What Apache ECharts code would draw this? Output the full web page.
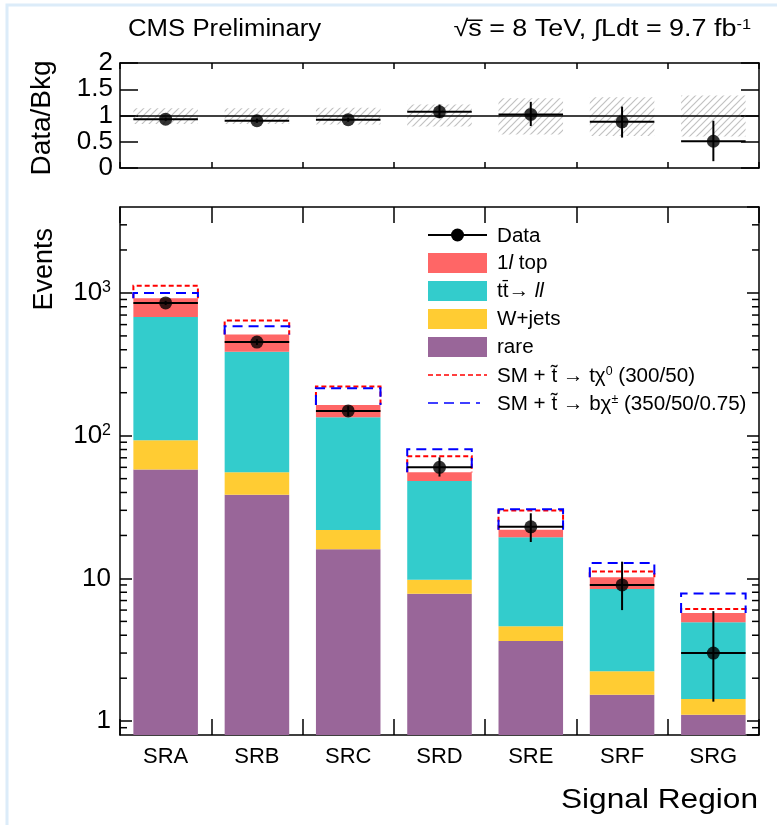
<!DOCTYPE html>
<html>
<head>
<meta charset="utf-8">
<script src="https://cdn.jsdelivr.net/npm/echarts@6/dist/echarts.min.js"></script>
<style>
  html, body { margin: 0; padding: 0; background: #fff; }
  #chart { width: 777px; height: 825px; }
</style>
</head>
<body>
<div id="chart"></div>
<script>
var regions = ['SRA', 'SRB', 'SRC', 'SRD', 'SRE', 'SRF', 'SRG'];

// background processes, events per region (stacked bottom -> top)
var rare  = [58, 38.5, 16, 7.8, 3.65, 1.53, 1.11];
var wjets = [35, 17, 5.8, 2.0, 0.97, 0.71, 0.32];
var ttll  = [586, 332, 113, 38.4, 14.8, 6.2, 3.5];
var top1l = [238, 125, 29, 7.2, 2.5, 1.75, 0.8];

// SM + signal totals
var sigT = [1125, 640, 221, 71.7, 29.9, 11.2, 6.1];    // t~ -> t chi0 (300/50)
var sigB = [1000, 584, 215, 80.2, 30.5, 12.8, 7.85];   // t~ -> b chi+- (350/50/0.75)

// observed data + error bar ends
var data   = [851, 453, 149, 60, 23, 9, 3];
var dataHi = [880, 474, 161, 70.5, 28.6, 13.1, 5.9];
var dataLo = [822, 432, 137, 51.7, 18.0, 6.0, 1.37];

// ratio panel
var ratio   = [0.93, 0.90, 0.92, 1.07, 1.02, 0.88, 0.51];
var ratioHi = [0.96, 0.94, 0.96, 1.21, 1.26, 1.17, 0.90];
var ratioLo = [0.90, 0.86, 0.88, 0.95, 0.80, 0.58, 0.13];
var bandHi  = [1.14, 1.14, 1.15, 1.21, 1.33, 1.35, 1.38];
var bandLo  = [0.84, 0.84, 0.83, 0.79, 0.64, 0.61, 0.60];

var C_TOP = '#ff6666', C_TT = '#33cccc', C_W = '#ffcc33', C_RARE = '#996699';
var FONT = '"Liberation Sans", Arial, Helvetica, sans-serif';
var BAR_FRAC = 0.707;
var Y_MIN = 0.8, Y_MAX = 4000;

// log minor ticks (2..9 of each decade) inside the axis range
var minorTicks = [];
[0.1, 1, 10, 100, 1000].forEach(function (d) {
  for (var m = 2; m <= 9; m++) {
    var v = d * m;
    if (v > Y_MIN && v < Y_MAX) minorTicks.push(v);
  }
});

// stack the background parts
var stackParts = [rare, wjets, ttll, top1l];
var stackColors = [C_RARE, C_W, C_TT, C_TOP];
var bkgTotal = regions.map(function () { return 0; });
var stackRows = stackParts.map(function (part) {
  return part.map(function (v, i) {
    var lo = bkgTotal[i];
    bkgTotal[i] = lo + v;
    return [i, lo, bkgTotal[i]];
  });
});

function barItem(color) {
  return function (params, api) {
    var cs = params.coordSys;
    var i = api.value(0), lo = api.value(1), hi = api.value(2);
    var w = api.size([1, 1])[0] * BAR_FRAC;
    var top = api.coord([i, hi]);
    var yBot = lo > 0 ? api.coord([i, lo])[1] : cs.y + cs.height;
    return {
      type: 'rect',
      shape: { x: top[0] - w / 2, y: top[1], width: w, height: yBot - top[1] },
      style: { fill: color }
    };
  };
}

function sigItem(color, dash) {
  return function (params, api) {
    var i = api.value(0);
    var w = api.size([1, 1])[0] * BAR_FRAC;
    var p1 = api.coord([i, api.value(1)]);
    var p2 = api.coord([i, api.value(2)]);
    var x0 = p1[0] - w / 2, x1 = p1[0] + w / 2;
    return {
      type: 'polyline',
      shape: { points: [[x0, p1[1]], [x0, p2[1]], [x1, p2[1]], [x1, p1[1]]] },
      style: { fill: null, stroke: color, lineWidth: 2, lineDash: dash }
    };
  };
}

function errItem(params, api) {
  var i = api.value(0);
  var w = api.size([1, 1])[0] * BAR_FRAC;
  var lo = api.coord([i, api.value(1)]);
  var hi = api.coord([i, api.value(2)]);
  var c = api.coord([i, api.value(3)]);
  var st = { stroke: '#000', lineWidth: 2 };
  return {
    type: 'group',
    children: [
      { type: 'line', shape: { x1: c[0] - w / 2, y1: c[1], x2: c[0] + w / 2, y2: c[1] }, style: st },
      { type: 'line', shape: { x1: c[0], y1: lo[1], x2: c[0], y2: hi[1] }, style: st }
    ]
  };
}

function makeHatch() {
  var c = document.createElement('canvas');
  c.width = 7; c.height = 7;
  var g = c.getContext('2d');
  g.strokeStyle = '#c2c2c2';
  g.lineWidth = 1.2;
  g.beginPath();
  g.moveTo(0, 7); g.lineTo(7, 0);
  g.moveTo(-1, 1); g.lineTo(1, -1);
  g.moveTo(6, 8); g.lineTo(8, 6);
  g.stroke();
  return c;
}
var hatch = makeHatch();

function bandItem(params, api) {
  var i = api.value(0);
  var w = api.size([1, 1])[0] * BAR_FRAC;
  var lo = api.coord([i, api.value(1)]);
  var hi = api.coord([i, api.value(2)]);
  return {
    type: 'rect',
    shape: { x: lo[0] - w / 2, y: hi[1], width: w, height: lo[1] - hi[1] },
    style: { fill: { image: hatch, repeat: 'repeat' } }
  };
}

function minorItem(params, api) {
  var cs = params.coordSys;
  var y = api.coord([0, api.value(1)])[1];
  var len = 7;
  var st = { stroke: '#000', lineWidth: 1.5 };
  return {
    type: 'group',
    children: [
      { type: 'line', shape: { x1: cs.x, y1: y, x2: cs.x + len, y2: y }, style: st },
      { type: 'line', shape: { x1: cs.x + cs.width - len, y1: y, x2: cs.x + cs.width, y2: y }, style: st }
    ]
  };
}

function logLabel(v) {
  var l = Math.log10(v), e = Math.round(l);
  if (Math.abs(l - e) > 1e-6) return '';
  if (e === 0) return '1';
  if (e === 1) return '10';
  return '10{sup|' + e + '}';
}

var axisLine = { show: true, onZero: false, lineStyle: { color: '#000', width: 1.5 } };

function catAxis(grid, pos, tickLen, labels) {
  return {
    type: 'category', gridIndex: grid, position: pos, data: regions,
    boundaryGap: true,
    axisLine: axisLine,
    axisTick: { show: true, inside: true, length: tickLen, interval: 0, lineStyle: { color: '#000', width: 1.5 } },
    axisLabel: labels ? { show: true, interval: 0, margin: 11, fontSize: 22, color: '#000', fontFamily: FONT } : { show: false },
    splitLine: { show: false }
  };
}

function ratioAxis(pos, labels) {
  return {
    type: 'value', gridIndex: 0, position: pos, min: 0, max: 2, interval: 0.5,
    axisLine: axisLine,
    axisTick: { show: true, inside: true, length: 18, lineStyle: { color: '#000', width: 1.5 } },
    axisLabel: labels ? {
      show: true, margin: 7, fontSize: 26, color: '#000', fontFamily: FONT,
      showMinLabel: true, showMaxLabel: true, hideOverlap: false
    } : { show: false },
    splitLine: { show: false }
  };
}

function logAxis(pos, labels) {
  return {
    type: 'log', logBase: 10, gridIndex: 1, position: pos, min: Y_MIN, max: Y_MAX,
    axisLine: axisLine,
    axisTick: { show: true, inside: true, length: 12, lineStyle: { color: '#000', width: 1.5 } },
    axisLabel: labels ? {
      show: true, margin: 9, fontSize: 26, color: '#000', fontFamily: FONT,
      showMinLabel: false, showMaxLabel: false,
      formatter: logLabel,
      rich: { sup: { fontSize: 16, fontFamily: FONT, color: '#000', verticalAlign: 'bottom', padding: [0, 0, 11, 0] } }
    } : { show: false },
    splitLine: { show: false },
    minorTick: { show: false }
  };
}

function txt(x, y, text, size, align, extra) {
  var el = {
    type: 'text', x: x, y: y, z: 100,
    style: {
      text: text, fill: '#000', fontSize: size, fontFamily: FONT,
      align: align, textAlign: align, verticalAlign: 'middle', textVerticalAlign: 'middle',
      rich: {
        sup: { fontSize: Math.round(size * 0.62), fontFamily: FONT, fill: '#000', verticalAlign: 'top', padding: [0, 0, Math.round(size * 0.45), 0] },
        it: { fontSize: size, fontFamily: FONT, fontStyle: 'italic', fill: '#000' }
      }
    }
  };
  if (extra) for (var k in extra) el[k] = extra[k];
  return el;
}

var LX = 428, LW = 59, LT = 497, LS = { scaleX: 1.03 };
var legendGraphics = [
  { type: 'line', shape: { x1: LX, y1: 235, x2: LX + LW, y2: 235 }, style: { stroke: '#000', lineWidth: 2 }, z: 100 },
  { type: 'circle', shape: { cx: LX + LW / 2, cy: 235, r: 6.5 }, style: { fill: '#000' }, z: 100 },
  txt(LT, 236, 'Data', 20, 'left', LS),
  { type: 'rect', shape: { x: LX, y: 253, width: LW, height: 20 }, style: { fill: C_TOP }, z: 100 },
  txt(LT, 263, '1{it|l} top', 20, 'left', LS),
  { type: 'rect', shape: { x: LX, y: 281, width: LW, height: 20 }, style: { fill: C_TT }, z: 100 },
  txt(LT, 291, 'tt\u0304\u2192 {it|ll}', 20, 'left', LS),
  { type: 'rect', shape: { x: LX, y: 309, width: LW, height: 20 }, style: { fill: C_W }, z: 100 },
  txt(LT, 319, 'W+jets', 20, 'left', LS),
  { type: 'rect', shape: { x: LX, y: 337, width: LW, height: 20 }, style: { fill: C_RARE }, z: 100 },
  txt(LT, 347, 'rare', 20, 'left', LS),
  { type: 'line', shape: { x1: LX, y1: 375, x2: LX + LW, y2: 375 }, style: { stroke: '#ff0000', lineWidth: 1.5, lineDash: [5, 3] }, z: 100 },
  txt(LT, 376, 'SM + t\u0303 \u2192 t\u03c7{sup|0} (300/50)', 20, 'left', LS),
  { type: 'line', shape: { x1: LX, y1: 403, x2: LX + 52, y2: 403 }, style: { stroke: '#0000ff', lineWidth: 1.5, lineDash: [10, 6] }, z: 100 },
  txt(LT, 404, 'SM + t\u0303 \u2192 b\u03c7{sup|\u00b1} (350/50/0.75)', 20, 'left', LS)
];

var chart = echarts.init(document.getElementById('chart'), null, { renderer: 'canvas' });

var option = {
  backgroundColor: '#fff',
  animation: false,
  grid: [
    { left: 120, right: 18, top: 63, height: 105, containLabel: false, outerBoundsMode: 'none' },
    { left: 120, right: 18, top: 207, height: 528, containLabel: false, outerBoundsMode: 'none' }
  ],
  xAxis: [
    catAxis(0, 'bottom', 6, false),
    catAxis(0, 'top', 6, false),
    catAxis(1, 'bottom', 16, true),
    catAxis(1, 'top', 16, false)
  ],
  yAxis: [
    ratioAxis('left', true),
    ratioAxis('right', false),
    logAxis('left', true),
    logAxis('right', false)
  ],
  graphic: [
    { type: 'polyline', shape: { points: [[7, 825], [7, 5], [777, 5]] }, style: { fill: null, stroke: '#dcecf9', lineWidth: 3 }, z: 100 },
    txt(128, 30, 'CMS Preliminary', 23, 'left', { scaleX: 1.12 }),
    txt(751, 30, '\u221as\u0305 = 8 TeV, \u222bLdt = 9.7 fb{sup|-1}', 23, 'right', { scaleX: 1.17 }),
    txt(42, 118, 'Data/Bkg', 28, 'center', { rotation: Math.PI / 2 }),
    txt(45, 228, 'Events', 27, 'right', { rotation: Math.PI / 2 }),
    txt(758, 800, 'Signal Region', 28, 'right', { scaleX: 1.13 })
  ].concat(legendGraphics),
  series: [
    // ratio panel
    {
      type: 'custom', xAxisIndex: 0, yAxisIndex: 0, z: 1, silent: true,
      encode: { x: 0, y: [1, 2] },
      data: regions.map(function (r, i) { return [i, bandLo[i], bandHi[i]]; }),
      renderItem: bandItem
    },
    {
      type: 'custom', xAxisIndex: 0, yAxisIndex: 0, z: 3, silent: true,
      encode: { x: 0, y: [1, 2] },
      data: regions.map(function (r, i) { return [i, ratioLo[i], ratioHi[i], ratio[i]]; }),
      renderItem: errItem,
      markLine: {
        silent: true, symbol: 'none', label: { show: false },
        lineStyle: { color: '#000', width: 1.5, type: 'solid' },
        data: [{ yAxis: 1 }]
      }
    },
    {
      type: 'scatter', xAxisIndex: 0, yAxisIndex: 0, z: 4, silent: true,
      symbol: 'circle', symbolSize: 13, itemStyle: { color: '#000' },
      data: ratio.map(function (v, i) { return [i, v]; })
    }
  ].concat(stackRows.map(function (rows, k) {
    return {
      type: 'custom', xAxisIndex: 2, yAxisIndex: 2, z: 1, silent: true,
      encode: { x: 0, y: 2 },
      data: rows,
      renderItem: barItem(stackColors[k])
    };
  })).concat([
    {
      type: 'custom', xAxisIndex: 2, yAxisIndex: 2, z: 2, silent: true,
      encode: { x: 0, y: 2 },
      data: regions.map(function (r, i) { return [i, bkgTotal[i], sigT[i]]; }),
      renderItem: sigItem('#ff0000', [5, 3])
    },
    {
      type: 'custom', xAxisIndex: 2, yAxisIndex: 2, z: 2, silent: true,
      encode: { x: 0, y: 2 },
      data: regions.map(function (r, i) { return [i, bkgTotal[i], sigB[i]]; }),
      renderItem: sigItem('#0000ff', [10, 6])
    },
    {
      type: 'custom', xAxisIndex: 2, yAxisIndex: 2, z: 3, silent: true,
      encode: { x: 0, y: [1, 2] },
      data: regions.map(function (r, i) { return [i, dataLo[i], dataHi[i], data[i]]; }),
      renderItem: errItem
    },
    {
      type: 'scatter', xAxisIndex: 2, yAxisIndex: 2, z: 4, silent: true,
      symbol: 'circle', symbolSize: 13, itemStyle: { color: '#000' },
      data: data.map(function (v, i) { return [i, v]; })
    },
    {
      type: 'custom', xAxisIndex: 2, yAxisIndex: 2, z: 5, silent: true,
      encode: { x: 0, y: 1 },
      data: minorTicks.map(function (v) { return [0, v]; }),
      renderItem: minorItem
    }
  ])
};

chart.setOption(option);
</script>
</body>
</html>
